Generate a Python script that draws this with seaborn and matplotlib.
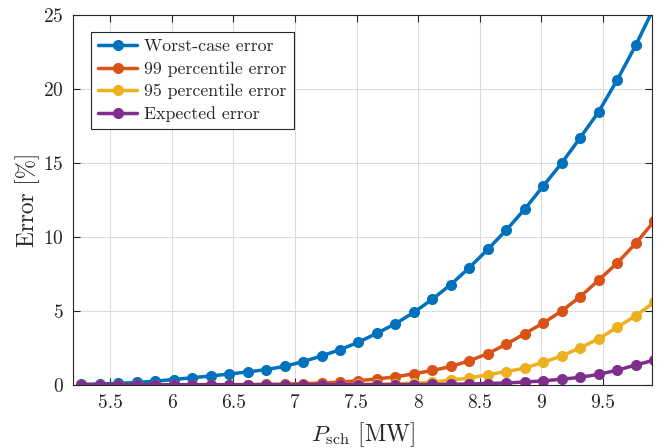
import numpy as np
import pandas as pd
import matplotlib
matplotlib.use("Agg")
import matplotlib.pyplot as plt
import seaborn as sns

# power set-points [MW], 0.15 MW apart
p_sch = [round(5.265 + 0.15 * k, 3) for k in range(32)]

worst_case = [0.02, 0.05, 0.09, 0.15, 0.24, 0.35, 0.47, 0.59, 0.72, 0.86,
              1.02, 1.24, 1.56, 1.94, 2.37, 2.87, 3.48, 4.12, 4.89, 5.78,
              6.77, 7.91, 9.15, 10.45, 11.87, 13.43, 14.98, 16.69, 18.45, 20.59,
              22.93, 25.5]
perc99 = [0.0, 0.0, 0.0, 0.0, 0.0, 0.0, 0.0, 0.0, 0.0, 0.01,
          0.02, 0.04, 0.07, 0.11, 0.17, 0.27, 0.39, 0.53, 0.74, 0.96,
          1.23, 1.62, 2.1, 2.74, 3.45, 4.17, 4.98, 5.95, 7.07, 8.22,
          9.55, 11.05]
perc95 = [0.0, 0.0, 0.0, 0.0, 0.0, 0.0, 0.0, 0.0, 0.0, 0.0,
          0.0, 0.0, 0.0, 0.0, 0.01, 0.02, 0.04, 0.06, 0.1, 0.17,
          0.32, 0.45, 0.68, 0.89, 1.12, 1.52, 1.94, 2.5, 3.1, 3.88,
          4.66, 5.56]
expected = [0.0, 0.0, 0.0, 0.0, 0.0, 0.0, 0.0, 0.0, 0.0, 0.0,
            0.0, 0.0, 0.0, 0.0, 0.0, 0.0, 0.0, 0.0, 0.01, 0.02,
            0.03, 0.05, 0.08, 0.12, 0.18, 0.26, 0.37, 0.5, 0.7, 0.98,
            1.33, 1.66]

labels = ["Worst-case error", "99 percentile error",
          "95 percentile error", "Expected error"]
colors = ["#0072BD", "#D95319", "#EDB120", "#7E2F8E"]

sns.set_style("ticks")
plt.rcParams["font.family"] = ["cmr10", "DejaVu Serif"]
plt.rcParams["mathtext.fontset"] = "cm"
plt.rcParams["axes.formatter.use_mathtext"] = True

fig = plt.figure(figsize=(6.64, 4.48), dpi=100)
ax = fig.add_axes([0.1104, 0.1413, 0.8720, 0.8259])

series = [worst_case, perc99, perc95, expected]
for vals, lab, col in zip(series, labels, colors):
    sns.lineplot(x=p_sch, y=vals, ax=ax, label=lab, color=col,
                 marker="o", markersize=8, linewidth=2.5,
                 markeredgewidth=0, clip_on=True)

ax.set_xlim(5.2, 9.9)
ax.set_ylim(0, 25)
ax.set_xticks([5.5, 6, 6.5, 7, 7.5, 8, 8.5, 9, 9.5])
ax.set_xticklabels(["5.5", "6", "6.5", "7", "7.5", "8", "8.5", "9", "9.5"])
ax.set_yticks([0, 5, 10, 15, 20, 25])
ax.grid(True, color="#dcdcdc", linewidth=0.8)
ax.tick_params(direction="in", top=True, right=True, length=5,
               width=0.8, color="#262626", labelsize=14, pad=7)
for s in ax.spines.values():
    s.set_color("#262626")
    s.set_linewidth(0.8)

ax.set_xlabel(r"$P_{\mathrm{sch}}$ [MW]", fontsize=16.8, labelpad=6)
ax.set_ylabel("Error [%]", fontsize=16.8, labelpad=2)

leg = ax.legend(loc="upper left", bbox_to_anchor=(0.0306, 0.954),
                borderaxespad=0, fontsize=12.8, frameon=True, fancybox=False,
                handlelength=2.2, handletextpad=0.4, labelspacing=0.4,
                borderpad=0.4)
leg.get_frame().set_edgecolor("#262626")
leg.get_frame().set_linewidth(0.8)
leg.get_frame().set_alpha(1)

fig.savefig("out.png", dpi=100)
